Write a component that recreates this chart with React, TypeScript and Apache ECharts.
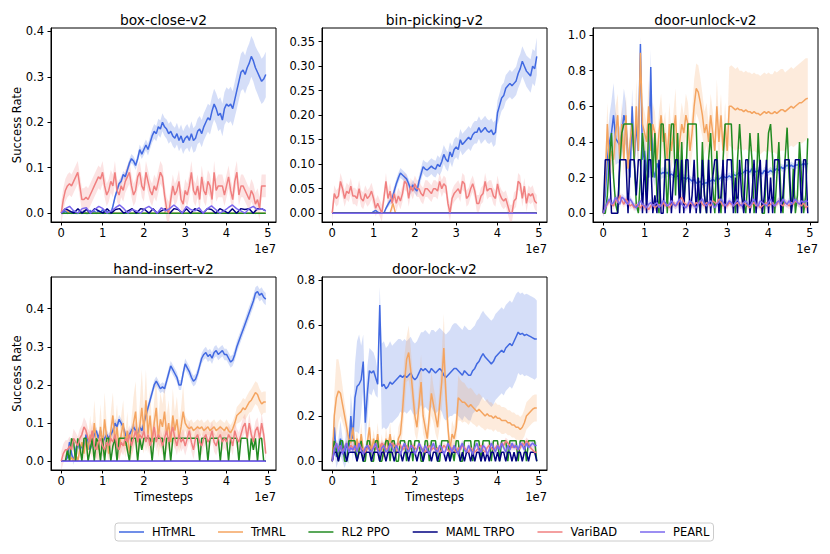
import React, { useEffect, useRef } from 'react';
import * as echarts from 'echarts';

const NAMES = ['HTrMRL', 'TrMRL', 'RL2 PPO', 'MAML TRPO', 'VariBAD', 'PEARL'];
const COLORS = ['#4169e1', '#f4a460', '#228b22', '#000080', '#f08080', '#7b68ee'];
const TITLES = ['box-close-v2', 'bin-picking-v2', 'door-unlock-v2', 'hand-insert-v2', 'door-lock-v2'];
const X_TICKS = [0, 1, 2, 3, 4, 5];
const Y_TICKS = [
  [0, 0.1, 0.2, 0.3, 0.4],
  [0, 0.05, 0.1, 0.15, 0.2, 0.25, 0.3, 0.35],
  [0, 0.2, 0.4, 0.6, 0.8, 1.0],
  [0, 0.1, 0.2, 0.3, 0.4],
  [0, 0.2, 0.4, 0.6, 0.8],
];
const Y_DECIMALS = [1, 2, 1, 1, 1];
const X_END = 4.95;

// ---------- box-close-v2 ----------
const BC_H = [
  0, 0, .005, 0, .003, 0, .005, 0, 0, .004,
  0, .005, 0, 0, .006, 0, .004, 0, .005, 0,
  .008, 0, .004, 0, 0, .015, .035, .05, .065, .07,
  .085, .08, .095, .11, .12, .115, .105, .12, .14, .13,
  .14, .15, .14, .155, .17, .18, .175, .19, .185, .2,
  .19, .185, .175, .18, .17, .165, .175, .16, .17, .155,
  .165, .17, .16, .175, .16, .165, .18, .185, .175, .19,
  .2, .21, .205, .225, .24, .23, .215, .22, .205, .23,
  .24, .235, .24, .23, .25, .27, .29, .31, .315, .305,
  .32, .33, .345, .335, .32, .31, .30, .29, .295, .305,
];
const BC_H_ERR = [
  .003, .003, .003, .003, .003, .003, .003, .003, .003, .003,
  .003, .003, .003, .003, .003, .003, .003, .003, .003, .003,
  .003, .003, .003, .003, .003, .005, .006, .007, .008, .008,
  .008, .008, .009, .009, .01, .01, .01, .01, .011, .011,
  .012, .012, .013, .014, .015, .016, .017, .018, .019, .02,
  .02, .021, .022, .022, .023, .023, .024, .024, .025, .025,
  .025, .026, .026, .027, .027, .028, .028, .029, .03, .03,
  .03, .031, .032, .033, .034, .034, .035, .035, .036, .036,
  .037, .037, .038, .038, .039, .04, .04, .041, .042, .042,
  .043, .044, .045, .046, .047, .048, .05, .05, .05, .05,
];
const BC_T = [[0, 0], [0.1, 0.01], [0.2, 0], [2.5, 0], [2.55, 0.01], [2.6, 0], [4.95, 0]];
const BC_R = [[0, 0], [4.95, 0]];
const BC_M = [
  0, .01, .005, 0, .01, 0, .008, 0, .01, .005, 0, .01, 0, .008, .01, 0, .005, .01, 0, .01,
  .008, 0, .01, 0, .005, .01, 0, .01, .008, 0, .01, 0, .01, .005, 0, .01, .008, 0, .01, .005,
  0, .01, 0, .01, .008, .01, 0, .01, .01, .005,
];
const BC_V = [
  0, .03, .05, .06, .065, .06, .07, .08, .09, .06,
  .03, .03, .035, .03, .04, .05, .06, .07, .08, .075,
  .09, .06, .04, .05, .07, .06, .09, .05, .04, .06,
  .05, .07, .08, .09, .06, .04, .05, .08, .09, .06,
  .05, .09, .07, .05, .04, .06, .05, .07, .09, .08,
  .04, .01, 0, .03, .06, .04, .05, .07, .03, .02,
  .05, .04, .06, .09, .05, .04, .06, .03, .08, .05,
  .04, .07, .06, .03, .09, .05, .06, .06, .06, .04,
  .06, .08, .05, .03, .07, .09, .04, .06, .06, .05,
  .04, .03, .05, .04, .02, .03, .01, .06, .06, .06,
];
const BC_V_ERR = 0.025;
const BC_P = [
  0, .01, .015, .005, 0, .01, .012, 0, .008, .015, .01, 0, .005, .012, .018, .01, 0, .008, .005, 0,
  .01, .015, .008, 0, .012, .005, .01, .018, .01, 0, .015, .008, .005, .012, 0, .01, .016, .008, 0, .005,
  .012, .018, .01, .005, 0, .01, .015, .008, .01, .005,
];

// ---------- bin-picking-v2 ----------
const BP_H = [
  0, 0, 0, 0, 0, 0, 0, 0, 0, 0,
  0, 0, 0, 0, 0, 0, 0, 0, 0, 0,
  .003, .006, .002, 0, 0, 0, .01, .018, .025, .03,
  .045, .06, .072, .082, .078, .074, .07, .06, .048, .058,
  .05, .045, .065, .08, .095, .09, .088, .092, .096, .092,
  .09, .1, .095, .105, .12, .11, .105, .125, .115, .13,
  .135, .13, .15, .14, .145, .15, .155, .15, .16, .165,
  .165, .175, .165, .17, .175, .168, .165, .17, .16, .165,
  .205, .22, .235, .24, .255, .26, .265, .26, .265, .27,
  .285, .295, .31, .3, .29, .285, .28, .3, .295, .32,
];
const BP_H_ERR = [
  0, 0, 0, 0, 0, 0, 0, 0, 0, 0,
  0, 0, 0, 0, 0, 0, 0, 0, 0, 0,
  0, 0, 0, 0, 0, 0, .004, .006, .008, .009,
  .01, .01, .01, .01, .01, .01, .01, .01, .01, .01,
  .01, .011, .012, .013, .014, .015, .015, .016, .016, .017,
  .017, .018, .018, .019, .019, .02, .02, .02, .021, .021,
  .021, .022, .022, .022, .022, .022, .023, .023, .023, .023,
  .023, .023, .024, .024, .024, .024, .024, .024, .025, .025,
  .025, .025, .026, .026, .027, .027, .028, .028, .029, .029,
  .03, .03, .031, .031, .032, .033, .034, .035, .036, .038,
];
const BP_T = [[0, 0], [1.4, 0], [1.47, 0.02], [1.53, 0], [4.95, 0]];
const BP_R = [[0, 0], [4.95, 0]];
const BP_M = [[0, 0], [4.95, 0]];
const BP_V = [
  0, .04, .03, .035, .065, .05, .03, .045, .04, .055,
  .035, .035, .03, .05, .03, .025, .04, .03, .035, .045,
  .03, .01, .02, .01, 0, .03, .065, .03, .045, .02,
  .04, .02, .035, .025, .04, .065, .06, .03, .055, .045,
  .06, .05, .05, .04, .035, .05, .05, .045, .04, .05,
  .05, .045, .065, .05, .06, .055, .02, 0, .03, .04,
  .045, .05, .04, .065, .06, .03, .035, .05, .06, .045,
  .02, .02, .035, .04, .065, .045, .05, .05, .035, .03,
  .06, .04, .03, .025, .03, .015, 0, 0, .025, .03,
  .065, .06, .03, .055, .02, .04, .035, .04, .025, .02,
];
const BP_V_ERR = 0.017;
const BP_P = [[0, 0], [4.95, 0]];

// ---------- door-unlock-v2 ----------
const DU_H = [
  0, .1, .3, .4, .45, .55, .42, .4, .38, .45,
  .55, .5, .3, .2, .6, .3, .5, .35, .95, .3,
  .35, .25, .2, .82, .25, .2, .28, .24, .22, .23,
  .22, .23, .21, .22, .21, .2, .21, .2, .19, .2,
  .19, .2, .19, .18, .19, .17, .17, .18, .16, .17,
  .17, .18, .18, .19, .18, .2, .19, .2, .21, .2,
  .2, .21, .2, .22, .21, .22, .23, .22, .23, .24,
  .24, .23, .25, .24, .23, .24, .23, .22, .24, .23,
  .23, .24, .23, .24, .25, .24, .26, .25, .26, .27,
  .26, .27, .26, .27, .27, .28, .27, .28, .27, .28,
];
const DU_H_ERR = [
  0, .05, .1, .15, .18, .18, .15, .12, .1, .12,
  .15, .12, .1, .1, .1, .1, .1, .1, .04, .1,
  .1, .08, .08, .1, .06, .05, .04, .03, .03, .03,
  .025, .025, .02, .02, .02, .02, .02, .02, .02, .02,
  .02, .02, .02, .02, .02, .02, .02, .02, .02, .02,
  .02, .02, .02, .02, .02, .02, .02, .02, .02, .02,
  .02, .02, .02, .02, .02, .02, .02, .02, .02, .02,
  .02, .02, .02, .02, .02, .02, .02, .02, .02, .02,
  .02, .02, .02, .02, .02, .02, .02, .02, .02, .02,
  .02, .02, .02, .02, .02, .02, .02, .02, .02, .02,
];
const DU_T = [
  0, .2, .5, .25, .35, .3, .45, .55, .3, .5,
  .3, .55, .25, .4, .5, .3, .6, .35, .9, .5,
  .45, .4, .6, .35, .5, .45, .3, .45, .55, .4,
  .45, .3, .5, .35, .45, .55, .3, .4, .5, .45,
  .55, .5, .35, .45, .6, .7, .68, .62, .55, .45,
  .5, .4, .55, .45, .35, .6, .4, .55, .35, .5,
  .35, .6, .6, .59, .58, .59, .58, .58, .57, .58,
  .57, .57, .56, .57, .56, .56, .55, .56, .57, .56,
  .57, .56, .56, .57, .56, .57, .58, .58, .57, .58,
  .59, .6, .59, .6, .61, .62, .62, .63, .64, .645,
];
const DU_T_ERR = [
  0, .1, .12, .1, .12, .1, .15, .12, .1, .12,
  .1, .12, .1, .12, .12, .1, .15, .12, .08, .12,
  .12, .1, .15, .1, .12, .12, .1, .12, .12, .1,
  .12, .1, .12, .1, .12, .15, .1, .12, .12, .1,
  .12, .12, .1, .12, .15, .14, .15, .14, .12, .12,
  .12, .1, .12, .12, .1, .15, .12, .12, .1, .12,
  .1, .22, .23, .23, .23, .23, .22, .22, .22, .22,
  .22, .22, .22, .22, .22, .22, .22, .22, .22, .22,
  .22, .22, .22, .23, .23, .23, .23, .23, .22, .22,
  .22, .22, .22, .22, .22, .22, .23, .23, .23, .225,
];
const DU_R = [
  0, 0, .1, .3, .45, .2, .05, 0, .25, .45,
  .5, .5, .5, .5, .5, .3, .05, 0, .2, .45,
  .3, .1, .5, .5, .2, .45, .1, 0, .5, .5,
  .3, 0, .3, .5, .5, .1, .45, .1, .4, .05,
  .2, .5, .5, .5, .5, .5, .1, 0, .4, .1,
  0, .3, .45, .15, 0, .35, .1, 0, .3, .5,
  .5, .5, .5, .2, 0, .3, .5, .3, .05, 0,
  .2, .45, .3, 0, .1, .45, .2, 0, 0, .25,
  .45, .5, .3, 0, .2, .4, .1, 0, .3, .48,
  .2, 0, .25, 0, .1, .4, .2, 0, .1, .42,
];
const DU_M = [
  0, .3, .3, .3, 0, 0, 0, 0, .3, .3,
  .3, .3, 0, .3, .3, .3, .1, .3, .3, 0,
  .3, 0, .3, .3, 0, .1, 0, .3, 0, 0,
  .3, .3, .3, 0, .2, .3, .3, 0, .3, 0,
  .3, .3, 0, .1, .3, 0, .2, 0, .3, .1,
  0, .3, 0, .2, .3, .3, 0, .1, .3, 0,
  .3, .3, .3, 0, .2, 0, .3, .1, 0, .3,
  .3, 0, .1, .3, 0, .2, .3, 0, .1, .3,
  0, .2, 0, .3, .3, .3, 0, .1, .3, .3,
  .3, 0, .1, .3, .3, .3, 0, .3, .3, 0,
];
const DU_V = [
  0, .03, .05, .07, .05, .04, .08, .06, .1, .07,
  .05, .08, .06, .04, .05, .03, .05, .04, .03, .05,
  .03, .04, .02, .04, .05, .03, .04, .05, .04, .06,
  .04, .05, .03, .05, .06, .04, .05, .07, .09, .06,
  .05, .04, .06, .05, .04, .06, .05, .07, .05, .04,
  .06, .05, .04, .07, .06, .05, .08, .06, .04, .05,
  .04, .06, .05, .04, .05, .06, .04, .05, .06, .05,
  .04, .03, .05, .06, .04, .05, .03, .04, .05, .06,
  .04, .05, .06, .04, .05, .07, .05, .04, .06, .05,
  .04, .06, .05, .07, .06, .05, .04, .06, .03, .04,
];
const DU_V_ERR = 0.02;
const DU_P = [
  0, .03, .06, .08, .05, .06, .09, .07, .05, .09,
  .08, .06, .05, .08, .06, .04, .03, .05, .07, .05,
  .04, .03, .05, .06, .04, .05, .06, .03, .05, .07,
  .06, .04, .05, .07, .05, .04, .06, .08, .05, .04,
  .03, .05, .07, .06, .04, .03, .05, .07, .08, .05,
  .04, .06, .07, .05, .03, .05, .06, .08, .06, .04,
  .05, .07, .06, .04, .06, .08, .05, .04, .06, .07,
  .05, .04, .06, .08, .05, .04, .07, .06, .05, .04,
  .06, .08, .05, .04, .06, .07, .05, .08, .06, .05,
  .07, .05, .06, .08, .06, .05, .07, .06, .07, .065,
];
const DU_P_ERR = 0.02;

// ---------- hand-insert-v2 ----------
const HI_H = [
  0, 0, 0, .01, .05, .02, 0, .03, .05, .03,
  .04, .03, .07, .05, .03, .05, .07, .08, .06, .08,
  .05, .06, .07, .06, .07, .08, .1, .09, .11, .1,
  .09, .07, .06, .07, .08, .09, .08, .07, .09, .08,
  .1, .12, .14, .16, .18, .2, .21, .2, .19, .195,
  .19, .21, .23, .25, .24, .23, .22, .2, .2, .23,
  .255, .245, .235, .22, .21, .215, .23, .25, .27, .28,
  .285, .275, .28, .27, .285, .29, .28, .285, .29, .28,
  .28, .27, .26, .265, .28, .3, .315, .33, .345, .36,
  .375, .39, .405, .42, .44, .445, .435, .44, .43, .425,
];
const HI_H_ERR = [
  0, 0, 0, .01, .01, .01, .01, .01, .01, .01,
  .01, .01, .01, .01, .01, .01, .01, .01, .01, .01,
  .012, .012, .012, .012, .012, .012, .012, .012, .012, .012,
  .012, .012, .012, .012, .012, .012, .012, .012, .012, .012,
  .012, .012, .012, .012, .012, .012, .012, .012, .012, .012,
  .013, .013, .013, .013, .013, .013, .013, .013, .013, .013,
  .014, .014, .014, .014, .014, .014, .014, .014, .014, .014,
  .015, .015, .015, .015, .015, .015, .015, .015, .015, .015,
  .015, .015, .015, .015, .015, .015, .015, .015, .015, .015,
  .016, .016, .016, .016, .016, .016, .016, .016, .016, .016,
];
const HI_T = [
  0, 0, 0, 0, 0, .01, 0, .02, 0, .03,
  .05, .02, .06, .03, .07, .04, .1, .05, .03, .09,
  .04, .11, .06, .02, .08, .12, .05, .09, .03, .07,
  .1, .04, .08, .02, .06, .1, .13, .05, .09, .14,
  .08, .16, .07, .12, .05, .1, .14, .06, .11, .09,
  .13, .07, .1, .05, .12, .08, .11, .06, .09, .13,
  .1, .09, .085, .09, .08, .085, .09, .085, .09, .08,
  .085, .09, .08, .085, .09, .08, .085, .09, .085, .08,
  .09, .08, .075, .085, .1, .12, .125, .13, .14, .135,
  .145, .155, .16, .17, .18, .175, .16, .15, .155, .155,
];
const HI_T_ERR = [
  0, 0, 0, 0, 0, .01, 0, .02, 0, .02,
  .03, .02, .04, .03, .05, .03, .06, .04, .03, .06,
  .03, .07, .04, .02, .05, .06, .04, .06, .03, .05,
  .06, .03, .05, .02, .05, .07, .08, .04, .06, .1,
  .06, .08, .05, .07, .04, .06, .08, .05, .07, .06,
  .07, .05, .06, .04, .07, .05, .06, .04, .05, .07,
  .02, .02, .02, .02, .02, .02, .02, .02, .02, .02,
  .02, .02, .02, .02, .02, .02, .02, .02, .02, .02,
  .02, .02, .02, .02, .02, .022, .024, .025, .026, .027,
  .028, .028, .03, .03, .03, .03, .03, .03, .028, .028,
];
const HI_R = [
  0, 0, 0, .03, 0, .06, .05, 0, .06, .04,
  0, .06, .06, 0, .03, .06, 0, .06, .05, 0,
  .06, 0, .06, .06, 0, .04, .06, 0, .06, .06,
  .06, .06, .03, 0, .06, .06, .06, 0, .06, .03,
  .06, .06, .06, .06, 0, .06, .06, .06, .06, .06,
  0, .06, .06, 0, .06, .06, .06, .06, .06, .06,
  .06, .06, .06, .06, .06, .06, .06, 0, .06, .06,
  .06, 0, .06, .06, .06, .06, .06, 0, .06, .06,
  .06, 0, .06, .06, .06, .06, 0, .06, .06, .06,
  .06, 0, .06, .03, .06, 0, .06, .06, 0, 0,
];
const HI_M = [[0, 0], [4.95, 0]];
const HI_V = [
  0, .02, .03, .03, .04, .03, .06, .05, .04, .06,
  .07, .09, .08, .06, .05, .08, .04, .03, .05, .06,
  .04, .03, .05, .04, .06, .05, .07, .04, .03, .05,
  .04, .06, .05, .07, .04, .06, .08, .05, .07, .06,
  .08, .05, .07, .04, .06, .09, .05, .07, .06, .04,
  .06, .08, .05, .07, .09, .06, .04, .07, .05, .06,
  .04, .06, .08, .05, .03, .06, .07, .05, .04, .06,
  .07, .05, .06, .08, .05, .04, .06, .07, .05, .06,
  .05, .07, .06, .04, .08, .06, .05, .07, .09, .1,
  .06, .1, .07, .05, .08, .09, .06, .1, .07, .02,
];
const HI_V_ERR = 0.025;
const HI_P = [[0, 0], [4.95, 0]];

// ---------- door-lock-v2 ----------
const DL_H = [
  0, .15, .02, .05, .1, .05, .02, .08, .04, .2,
  .1, .28, .33, .34, .36, .44, .17, .3, .4, .39,
  .4, .37, .34, .69, .33, .34, .32, .33, .35, .34,
  .35, .36, .37, .38, .37, .38, .37, .38, .39, .37,
  .36, .37, .39, .41, .4, .41, .4, .39, .41, .4,
  .39, .4, .41, .4, .38, .37, .38, .39, .4, .41,
  .41, .4, .39, .38, .4, .39, .38, .38, .4, .41,
  .43, .44, .46, .475, .46, .45, .44, .43, .44, .46,
  .47, .48, .49, .48, .5, .51, .52, .51, .53, .55,
  .57, .56, .565, .555, .56, .555, .55, .545, .54, .54,
];
const DL_H_ERR = [
  0, .1, .05, .05, .08, .05, .05, .08, .05, .1,
  .1, .15, .2, .22, .15, .12, .1, .12, .1, .1,
  .08, .08, .06, .08, .19, .19, .18, .18, .18, .17,
  .17, .17, .17, .16, .16, .16, .16, .16, .16, .16,
  .16, .16, .16, .16, .17, .17, .17, .17, .17, .18,
  .18, .18, .18, .18, .19, .19, .19, .19, .2, .2,
  .2, .2, .2, .2, .2, .2, .2, .2, .19, .19,
  .19, .19, .19, .19, .19, .19, .19, .19, .19, .19,
  .19, .19, .19, .19, .19, .19, .19, .19, .19, .19,
  .18, .18, .18, .18, .18, .18, .18, .18, .18, .17,
];
const DL_T = [
  0, .2, .28, .31, .3, .25, .2, .15, .1, .08,
  .15, .05, .1, .03, .12, .05, .02, .08, .15, .04,
  .1, .05, .12, .04, .08, .02, .1, .06, .12, .05,
  .08, .03, .1, .12, .22, .35, .45, .48, .4, .3,
  .2, .15, .25, .35, .2, .15, .1, .2, .3, .25,
  .2, .15, .25, .35, .5, .3, .15, .05, .12, .1,
  .15, .28, .27, .26, .26, .25, .24, .25, .24, .23,
  .22, .23, .22, .21, .2, .21, .2, .2, .19, .2,
  .19, .19, .18, .18, .18, .17, .17, .16, .16, .15,
  .15, .14, .15, .17, .2, .21, .22, .23, .235, .235,
];
const DL_T_ERR = [
  0, .1, .17, .14, .1, .08, .06, .05, .05, .04,
  .05, .03, .04, .02, .05, .03, .02, .04, .05, .02,
  .04, .03, .05, .02, .04, .02, .05, .03, .05, .03,
  .04, .02, .05, .06, .1, .12, .1, .12, .1, .08,
  .08, .06, .1, .12, .08, .06, .05, .08, .1, .08,
  .08, .06, .1, .12, .15, .1, .06, .03, .06, .05,
  .06, .1, .09, .09, .085, .08, .08, .075, .075, .07,
  .07, .07, .07, .065, .065, .065, .06, .06, .06, .06,
  .06, .06, .06, .06, .055, .055, .055, .055, .055, .055,
  .055, .055, .055, .06, .06, .06, .06, .06, .06, .06,
];
const DL_R = [
  0, .09, .05, 0, .09, .09, 0, 0, .09, .09,
  .09, .09, 0, .05, .09, 0, 0, .09, .09, 0,
  0, .09, .09, 0, 0, .05, .09, .09, 0, .09,
  .09, 0, 0, .09, .09, .09, 0, .09, .09, 0,
  .09, .09, .09, 0, 0, .09, .09, 0, .09, .09,
  .09, 0, 0, .09, .09, .09, .09, 0, .05, 0,
  .09, .09, 0, 0, .09, .09, .09, .09, 0, .09,
  .09, .09, 0, .09, .09, .09, .09, 0, .09, .09,
  .09, 0, .09, .09, .09, 0, .09, .09, .09, .09,
  0, .09, .09, .09, 0, .09, .09, .09, .09, 0,
];
const DL_M = [
  0, .04, .04, 0, .04, .04, .04, 0, .04, .04,
  .04, .04, 0, .04, .04, 0, .04, .04, .04, 0,
  .04, .04, .04, 0, .04, .04, 0, .04, .04, .04,
  0, .04, .04, .04, 0, .04, .04, 0, .04, .04,
  .04, 0, .04, .04, 0, .04, .04, .04, 0, .04,
  .04, 0, .04, .04, .04, 0, .04, 0, .04, .04,
  .04, .04, 0, .04, 0, .04, .04, 0, .04, 0,
  .04, .04, 0, .04, 0, .04, 0, .04, .04, 0,
  .04, 0, .04, .04, 0, .04, .04, 0, .04, 0,
  .04, .04, 0, .04, .04, 0, .04, .04, .04, 0,
];
const DL_V = [
  0, .06, .08, .05, .07, .04, .06, .08, .05, .07,
  .06, .05, .07, .08, .06, .05, .04, .06, .07, .05,
  .06, .07, .05, .06, .08, .07, .05, .06, .07, .08,
  .07, .06, .08, .07, .05, .06, .07, .05, .06, .07,
  .06, .05, .07, .06, .05, .04, .06, .07, .05, .06,
  .05, .06, .04, .05, .07, .06, .05, .04, .06, .05,
  .04, .06, .05, .07, .06, .05, .04, .06, .05, .04,
  .05, .06, .07, .05, .04, .06, .07, .06, .05, .06,
  .07, .06, .08, .07, .09, .08, .07, .06, .07, .06,
  .05, .06, .08, .07, .09, .08, .06, .05, .04, .04,
];
const DL_V_ERR = 0.015;
const DL_P = [
  0, .05, .08, .04, .07, .03, .06, .08, .04, .06,
  .05, .07, .04, .08, .05, .03, .06, .07, .05, .04,
  .06, .08, .05, .03, .06, .07, .04, .05, .08, .06,
  .04, .07, .05, .03, .06, .08, .05, .04, .07, .06,
  .03, .05, .08, .06, .04, .07, .05, .03, .06, .08,
  .05, .04, .07, .06, .03, .05, .08, .06, .04, .07,
  .05, .03, .06, .08, .05, .04, .07, .05, .03, .06,
  .08, .05, .04, .07, .06, .03, .05, .08, .06, .04,
  .07, .05, .08, .06, .04, .07, .05, .08, .06, .07,
  .05, .08, .07, .05, .08, .06, .07, .08, .07, .07,
];
const DL_P_ERR = 0.015;

const PANELS: any[] = [
  { lines: [BC_H, BC_T, BC_R, BC_M, BC_V, BC_P], errs: [BC_H_ERR, null, null, null, BC_V_ERR, null] },
  { lines: [BP_H, BP_T, BP_R, BP_M, BP_V, BP_P], errs: [BP_H_ERR, null, null, null, BP_V_ERR, null] },
  { lines: [DU_H, DU_T, DU_R, DU_M, DU_V, DU_P], errs: [DU_H_ERR, DU_T_ERR, null, null, DU_V_ERR, DU_P_ERR] },
  { lines: [HI_H, HI_T, HI_R, HI_M, HI_V, HI_P], errs: [HI_H_ERR, HI_T_ERR, null, null, HI_V_ERR, null] },
  { lines: [DL_H, DL_T, DL_R, DL_M, DL_V, DL_P], errs: [DL_H_ERR, DL_T_ERR, null, null, DL_V_ERR, DL_P_ERR] },
];

// layout
const GRIDS = [
  { left: 51, top: 28, width: 225, height: 194 },
  { left: 322, top: 28, width: 225, height: 194 },
  { left: 593, top: 28, width: 225, height: 194 },
  { left: 51, top: 277, width: 225, height: 193 },
  { left: 322, top: 277, width: 225, height: 193 },
];
const X_RANGE = [-0.2475, 5.1975];
const Y_RANGES = [[-0.0194, 0.4074], [-0.018, 0.378], [-0.0495, 1.0395], [-0.023, 0.483], [-0.03875, 0.81375]];
const FONT = '"DejaVu Sans", "Liberation Sans", sans-serif';

function toPairs(d: any[]): number[][] {
  if (Array.isArray(d[0])) return d as number[][];
  const step = X_END / (d.length - 1);
  return d.map((y: number, i: number) => [i * step, y]);
}

function bandSeries(gi: number, mean: any[], err: any, color: string) {
  const pts = toPairs(mean);
  return {
    type: 'custom',
    xAxisIndex: gi,
    yAxisIndex: gi,
    silent: true,
    clip: true,
    data: [[pts[0][0], pts[0][1]]],
    renderItem: (_params: any, api: any) => {
      const up: number[][] = [];
      const lo: number[][] = [];
      pts.forEach(([x, y], i) => {
        const e = typeof err === 'number' ? err : err[i];
        up.push(api.coord([x, y + e]));
        lo.push(api.coord([x, y - e]));
      });
      return {
        type: 'polygon',
        shape: { points: up.concat(lo.reverse()) },
        style: { fill: color, opacity: 0.22 },
      };
    },
  };
}

function txt(text: string, x: number, y: number, size: number, align: string, rotation = 0) {
  return {
    type: 'text',
    x,
    y,
    rotation,
    silent: true,
    style: {
      text,
      fill: '#000',
      font: `${size}px ${FONT}`,
      align,
      verticalAlign: 'middle',
      textAlign: align,
      textVerticalAlign: 'middle',
    },
  };
}

export default function App() {
  const ref = useRef<HTMLDivElement>(null);
  useEffect(() => {
    if (!ref.current) return;
    const chart = echarts.init(ref.current, undefined, { renderer: 'svg' });
    const series: any[] = [];
    PANELS.forEach((p, gi) => {
      p.lines.forEach((d: any[], k: number) => {
        if (p.errs[k] !== null) series.push(bandSeries(gi, d, p.errs[k], COLORS[k]));
        series.push({
          type: 'line',
          name: NAMES[k],
          xAxisIndex: gi,
          yAxisIndex: gi,
          data: toPairs(d),
          symbol: 'none',
          showSymbol: false,
          clip: true,
          lineStyle: { color: COLORS[k], width: 1.5 },
          itemStyle: { color: COLORS[k] },
          emphasis: { disabled: true },
        });
      });
    });
    const graphics: any[] = [];
    GRIDS.forEach((g, i) => {
      const cx = g.left + g.width / 2;
      const row2 = i >= 3;
      graphics.push(txt(TITLES[i], cx, row2 ? 268.5 : 19.5, 13.8, 'center'));
      graphics.push(txt('1e7', g.left + g.width, row2 ? 496.5 : 248.5, 11.5, 'right'));
      if (row2) graphics.push(txt('Timesteps', cx, 496.5, 11.5, 'center'));
      if (i === 0 || i === 3) graphics.push(txt('Success Rate', 17, g.top + g.height / 2, 11.5, 'center', Math.PI / 2));
    });
    chart.setOption({
      animation: false,
      backgroundColor: '#fff',
      grid: GRIDS.map((g) => ({ ...g, show: true, borderColor: '#000', borderWidth: 1, backgroundColor: 'transparent', containLabel: false })),
      xAxis: GRIDS.map((_g, i) => ({
        type: 'value',
        gridIndex: i,
        min: X_RANGE[0],
        max: X_RANGE[1],
        axisLine: { show: true, onZero: false, lineStyle: { color: '#000', width: 1 } },
        axisTick: { show: true, length: 3.5, customValues: X_TICKS, lineStyle: { color: '#000', width: 1 } },
        axisLabel: { customValues: X_TICKS, formatter: (v: number) => String(v), color: '#000', fontSize: 11.5, fontFamily: FONT, margin: 5 },
        splitLine: { show: false },
      })),
      yAxis: GRIDS.map((_g, i) => ({
        type: 'value',
        gridIndex: i,
        min: Y_RANGES[i][0],
        max: Y_RANGES[i][1],
        axisLine: { show: true, onZero: false, lineStyle: { color: '#000', width: 1 } },
        axisTick: { show: true, length: 3.5, customValues: Y_TICKS[i], lineStyle: { color: '#000', width: 1 } },
        axisLabel: { customValues: Y_TICKS[i], formatter: (v: number) => v.toFixed(Y_DECIMALS[i]), color: '#000', fontSize: 11.5, fontFamily: FONT, margin: 7 },
        splitLine: { show: false },
      })),
      legend: {
        data: NAMES,
        left: 115,
        top: 523,
        orient: 'horizontal',
        icon: 'rect',
        itemWidth: 25,
        itemHeight: 1.5,
        itemGap: 23,
        padding: [3, 4],
        borderColor: '#cccccc',
        borderWidth: 1,
        borderRadius: 3,
        selectedMode: false,
        textStyle: { fontSize: 11.5, fontFamily: FONT, color: '#000', padding: [0, 0, 0, 3] },
      },
      graphic: graphics,
      series,
    });
    return () => chart.dispose();
  }, []);
  return <div ref={ref} style={{ position: 'absolute', left: 0, top: 0, width: 830, height: 554 }} />;
}
